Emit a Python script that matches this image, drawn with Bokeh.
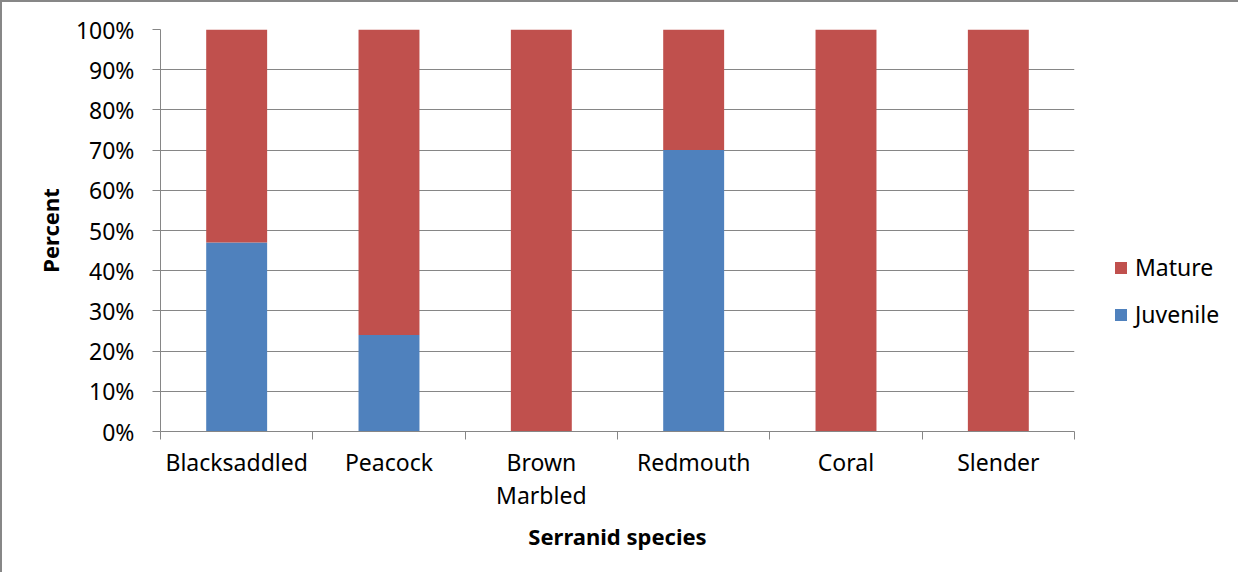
from bokeh.plotting import figure
from bokeh.layouts import row
from bokeh.models import (ColumnDataSource, Range1d, FixedTicker, PrintfTickFormatter,
                          Legend, LegendItem)
from bokeh.embed import file_html
from bokeh.resources import INLINE

species = ["Blacksaddled", "Peacock", "Brown\nMarbled", "Redmouth", "Coral", "Slender"]
juvenile = [47, 24, 0, 70, 0, 0]
mature = [53, 76, 100, 30, 100, 100]
y_ticks = [0, 10, 20, 30, 40, 50, 60, 70, 80, 90, 100]
series = ["Mature", "Juvenile"]

FONT = "Noto Sans"
GRAY = "#868686"
RED = "#C0504D"
BLUE = "#4F81BD"
BORDER = "2px solid #878787"

xs = [i + 0.5 for i in range(len(species))]
src = ColumnDataSource(dict(x=xs, juvenile=juvenile, mature=mature))

p = figure(width=1082, height=572, output_backend="svg", toolbar_location=None,
           x_range=Range1d(0, len(species)), y_range=Range1d(0, 100),
           min_border_left=158, min_border_right=10, min_border_top=27, min_border_bottom=143)
p.styles = {"border-top": BORDER, "border-left": BORDER}
p.outline_line_color = None
p.xgrid.grid_line_color = None
p.ygrid.grid_line_color = GRAY
p.ygrid.grid_line_width = 1

rs = p.vbar_stack(["juvenile", "mature"], x="x", width=0.4, color=[BLUE, RED],
                  line_color=None, source=src)

# y axis
p.yaxis.ticker = FixedTicker(ticks=y_ticks, minor_ticks=[])
p.yaxis.formatter = PrintfTickFormatter(format="%d%%")
p.yaxis.axis_line_color = GRAY
p.yaxis.major_tick_line_color = GRAY
p.yaxis.major_tick_in = 0
p.yaxis.major_tick_out = 8
p.yaxis.minor_tick_line_color = None
p.yaxis.major_label_text_font = FONT
p.yaxis.major_label_text_font_size = "23px"
p.yaxis.major_label_text_color = "black"
p.yaxis.major_label_standoff = 18
p.yaxis.axis_label = "Percent"
p.yaxis.axis_label_text_font = FONT
p.yaxis.axis_label_text_font_size = "22px"
p.yaxis.axis_label_text_font_style = "bold"
p.yaxis.axis_label_text_color = "black"
p.yaxis.axis_label_standoff = 8

# x axis
p.xaxis.ticker = FixedTicker(ticks=xs, minor_ticks=list(range(len(species) + 1)))
p.xaxis.major_label_overrides = {x: s for x, s in zip(xs, species)}
p.xaxis.axis_line_color = GRAY
p.xaxis.major_tick_line_color = None
p.xaxis.major_tick_in = 0
p.xaxis.major_tick_out = 0
p.xaxis.minor_tick_line_color = GRAY
p.xaxis.minor_tick_in = 0
p.xaxis.minor_tick_out = 8
p.xaxis.major_label_text_font = FONT
p.xaxis.major_label_text_font_size = "23px"
p.xaxis.major_label_text_line_height = 1.05
p.xaxis.major_label_text_color = "black"
p.xaxis.major_label_standoff = 6
p.xaxis.axis_label = "Serranid species"
p.xaxis.axis_label_text_font = FONT
p.xaxis.axis_label_text_font_size = "22px"
p.xaxis.axis_label_text_font_style = "bold"
p.xaxis.axis_label_text_color = "black"
p.xaxis.axis_label_standoff = 7

# legend panel (frame aligned with the main plot's frame by the row layout)
q = figure(width=156, height=572, output_backend="svg", toolbar_location=None,
           x_range=Range1d(0, 1), y_range=Range1d(0, 1),
           min_border_left=0, min_border_right=0, min_border_top=0, min_border_bottom=0)
q.styles = {"border-top": BORDER}
q.axis.visible = False
q.grid.visible = False
q.outline_line_color = None
# swatch renderers for the legend, placed outside the visible range
lm = q.vbar(x=[5], top=[1], width=0.5, color=RED, line_color=None)
lj = q.vbar(x=[5], top=[1], width=0.5, color=BLUE, line_color=None)

legend = Legend(items=[LegendItem(label=series[0], renderers=[lm]),
                       LegendItem(label=series[1], renderers=[lj])],
                location=(31, 101), padding=0, margin=0, border_line_color=None,
                background_fill_alpha=0, glyph_width=15, glyph_height=15,
                label_height=24, spacing=15, label_standoff=7,
                label_text_font=FONT, label_text_font_size="23px",
                label_text_color="black")
q.add_layout(legend, "center")

layout = row(p, q, spacing=0)
open("out.html", "w").write(file_html(layout, INLINE))
